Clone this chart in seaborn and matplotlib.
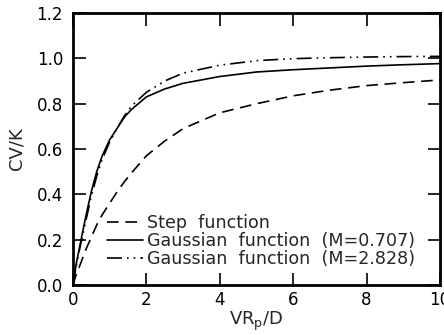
import numpy as np
import pandas as pd
import matplotlib
matplotlib.use('Agg')
import matplotlib.pyplot as plt
import seaborn as sns

# Values
x_vals = [0, 0.1, 0.2, 0.35, 0.5, 0.65, 0.8, 1.0, 1.2, 1.4, 1.6,
          2.0, 2.5, 3.0, 4.0, 5.0, 6.0, 7.0, 8.0, 9.0, 10.0]
step_fn = [0, 0.05, 0.09, 0.155, 0.21, 0.265, 0.31, 0.36, 0.41, 0.455, 0.495,
           0.57, 0.635, 0.69, 0.76, 0.80, 0.835, 0.86, 0.88, 0.893, 0.905]
gauss_m0707 = [0, 0.10, 0.18, 0.30, 0.41, 0.50, 0.57, 0.64, 0.69, 0.74, 0.775,
               0.83, 0.865, 0.89, 0.92, 0.94, 0.95, 0.958, 0.966, 0.972, 0.977]
gauss_m2828 = [0, 0.09, 0.17, 0.28, 0.39, 0.48, 0.555, 0.63, 0.69, 0.745, 0.79,
               0.85, 0.90, 0.935, 0.97, 0.99, 0.999, 1.003, 1.006, 1.008, 1.009]

labels = ['Step  function',
          'Gaussian  function  (M=0.707)',
          'Gaussian  function  (M=2.828)']
series = [step_fn, gauss_m0707, gauss_m2828]
styles = [(0, (7, 4)), '-', (0, (9, 3, 1, 3, 1, 3))]

sns.set_style('ticks')
plt.rcParams['font.family'] = ['DejaVu Sans']

fig = plt.figure(figsize=(4.44, 3.35), dpi=100)
ax = fig.add_axes([0.164, 0.149, 0.827, 0.812])

for lab, ys, ls in zip(labels, series, styles):
    df = pd.DataFrame({'x': x_vals, 'y': ys})
    sns.lineplot(data=df, x='x', y='y', ax=ax, color='black',
                 linestyle=ls, linewidth=1.2, label=lab)

ax.set_xlim(0, 10)
ax.set_ylim(0, 1.2)
ax.set_xticks([0, 2, 4, 6, 8, 10])
ax.set_yticks([0.0, 0.2, 0.4, 0.6, 0.8, 1.0, 1.2])
ax.set_yticklabels(['0.0', '0.2', '0.4', '0.6', '0.8', '1.0', '1.2'])
ax.tick_params(direction='in', length=9, width=1.2, labelsize=12,
               top=True, right=True, colors='black')
ax.tick_params(axis='y', pad=7)
ax.tick_params(axis='x', pad=4)
for sp in ax.spines.values():
    sp.set_linewidth(2)
    sp.set_color('black')

ax.set_xlabel(r'VR$_\mathrm{p}$/D', fontsize=13, labelpad=1)
ax.set_ylabel('CV/K', fontsize=13, labelpad=8)

ax.legend(loc='lower right', bbox_to_anchor=(0.955, 0.03), frameon=False,
          fontsize=12.6, handlelength=2.05, handletextpad=0.23,
          labelspacing=0.0, borderpad=0)

fig.savefig('out.png', dpi=100)
